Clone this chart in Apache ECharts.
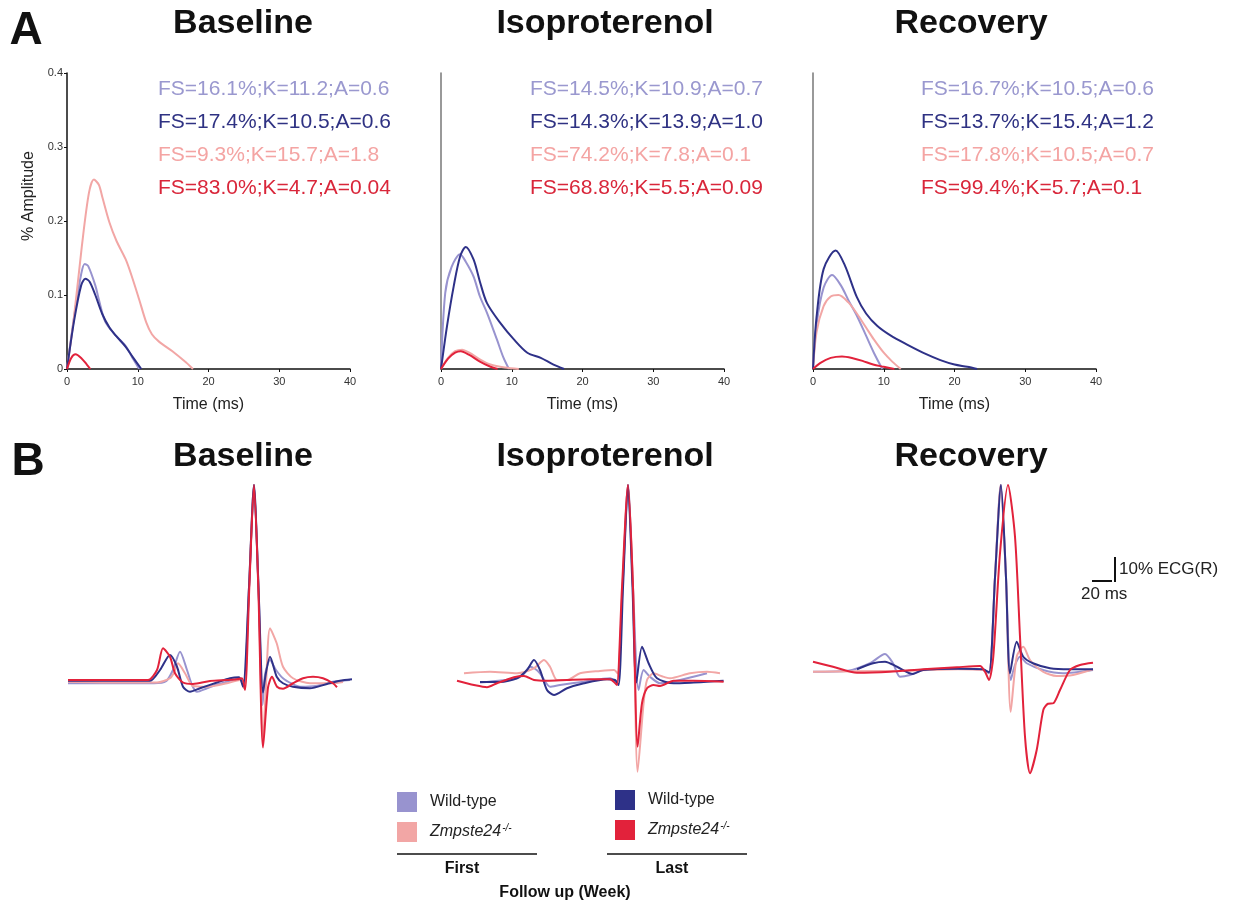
<!DOCTYPE html>
<html><head><meta charset="utf-8">
<script src="https://cdn.jsdelivr.net/npm/echarts@6/dist/echarts.min.js"></script>
<style>html,body{margin:0;padding:0;background:#fff}#c{width:1234px;height:908px}</style>
</head><body><div id="c"></div>
<script>
const FONT = '"Liberation Sans", Arial, sans-serif';
const conditions = ['Baseline', 'Isoproterenol', 'Recovery'];
const seriesNames = ['WT First', 'KO First', 'WT Last', 'KO Last'];
const colors = ['#9893cf', '#f2a6a5', '#2e3188', '#e2223b'];
const textColors = ['#9a98cf', '#2f3283', '#f4a4a3', '#d9263a'];
const timeTicks = [0, 10, 20, 30, 40];
const ampTicks = [0, 0.1, 0.2, 0.3, 0.4];

// Panel A annotation labels (per condition, rows: WT first, WT last, KO first, KO last)
const fsBaseline = ['FS=16.1%;K=11.2;A=0.6', 'FS=17.4%;K=10.5;A=0.6', 'FS=9.3%;K=15.7;A=1.8', 'FS=83.0%;K=4.7;A=0.04'];
const fsIso = ['FS=14.5%;K=10.9;A=0.7', 'FS=14.3%;K=13.9;A=1.0', 'FS=74.2%;K=7.8;A=0.1', 'FS=68.8%;K=5.5;A=0.09'];
const fsRecovery = ['FS=16.7%;K=10.5;A=0.6', 'FS=13.7%;K=15.4;A=1.2', 'FS=17.8%;K=10.5;A=0.7', 'FS=99.4%;K=5.7;A=0.1'];

// Panel A curves: [time ms, amplitude]
const aBaseWtFirst = [[0,0],[1,0.07],[2,0.128],[2.5,0.142],[3,0.139],[4,0.113],[4.5,0.094],[5.4,0.064],[6.9,0.045],[8.3,0.031],[9.2,0.016],[10.2,0]];
const aBaseKoFirst = [[0,0],[0.95,0.067],[2.1,0.166],[3.1,0.238],[3.8,0.256],[4.5,0.249],[5,0.232],[6,0.198],[7,0.173],[8.3,0.148],[9.2,0.124],[10.2,0.094],[11.2,0.063],[12,0.047],[13,0.037],[14.9,0.024],[16.8,0.009],[17.8,0]];
const aBaseWtLast = [[0,0],[1,0.065],[2,0.113],[2.6,0.122],[3.2,0.118],[4,0.1],[5,0.074],[6,0.056],[7,0.044],[8.3,0.03],[9.3,0.016],[10.5,0]];
const aBaseKoLast = [[0,0],[0.6,0.015],[1.2,0.02],[2,0.015],[2.8,0.006],[3.3,0]];

const aIsoWtFirst = [[0,0],[0.6,0.103],[1.5,0.138],[2.7,0.155],[3.5,0.145],[4.6,0.125],[5.5,0.098],[6.5,0.076],[7.9,0.04],[8.8,0.016],[9.6,0]];
const aIsoKoFirst = [[0,0],[1,0.015],[2,0.024],[3,0.026],[4,0.022],[5.5,0.013],[7,0.006],[9,0.002],[11,0]];
const aIsoWtLast = [[0,0],[0.85,0.058],[1.8,0.112],[2.7,0.152],[3.5,0.165],[4.6,0.148],[5.5,0.118],[6.5,0.089],[8.4,0.062],[10.3,0.04],[12.2,0.022],[14.1,0.015],[15.9,0.006],[17.4,0]];
const aIsoKoLast = [[0,0],[1,0.014],[2,0.022],[2.8,0.024],[4,0.019],[5.5,0.01],[7,0.003],[8,0]];

const aRecWtFirst = [[0,0],[0.5,0.06],[1.5,0.11],[2.7,0.127],[4,0.112],[5,0.093],[6.2,0.072],[7.5,0.045],[8.6,0.022],[9.8,0]];
const aRecKoFirst = [[0,0],[0.5,0.05],[1.5,0.085],[2.5,0.098],[3.6,0.1],[5,0.09],[6.2,0.075],[7.5,0.056],[8.6,0.04],[10,0.022],[11.2,0.01],[12.4,0]];
const aRecWtLast = [[0,0],[0.5,0.07],[1.5,0.135],[3.2,0.16],[4.5,0.14],[6.2,0.097],[7.5,0.075],[9.1,0.058],[11,0.045],[13.3,0.033],[16,0.02],[18,0.012],[20,0.006],[21.8,0.003],[23.2,0]];
const aRecKoLast = [[0,0],[1,0.008],[2.5,0.015],[4.1,0.017],[5.5,0.015],[7,0.011],[8.5,0.006],[10,0.003],[11.5,0]];

// Panel B ECG traces: [time ms relative to R, % ECG(R)]
const bBaseWtFirst = [[-186,-1.3],[-140,-1.3],[-100,-1.3],[-88,-0.5],[-81,4],[-74,11.3],[-67,4],[-62,-2],[-57,-4.7],[-47,-3.3],[-37,-1.8],[-27,-0.7],[-14,0.7],[-10,-3],[-5,37],[0,78],[4.5,37],[8.5,-10],[11,2],[16,8],[22,4],[29,0.7],[38,-1.5],[46,-2.7],[62,-2.4],[79,-0.7],[96,0]];
const bBaseKoFirst = [[-186,-0.7],[-140,-1],[-97,-1],[-84,0.7],[-80,3],[-76,6.7],[-69,2.7],[-61,-2.4],[-47,-2.7],[-27,-1.3],[-14,0],[-10,-3.3],[-5,37],[0,78],[4.5,37],[9,-25],[12,-2],[16,20.7],[22.7,14.7],[29,5.3],[39,0.7],[56,-1.3],[79,-1.3],[89,-0.8]];
const bBaseWtLast = [[-186,-0.3],[-140,-0.3],[-104,-0.3],[-94,4],[-84,10],[-77,5.3],[-71,-2.7],[-64,-4.7],[-54,-3.3],[-37,-1],[-24,0.7],[-15,1.1],[-11,-2.7],[-5,37],[0,78],[4.5,37],[9,-5],[12,3],[16,9.3],[22.7,1.3],[29,-1.3],[39,-2.7],[56,-3.3],[73,-1.6],[86,-0.3],[98,0.3]];
const bBaseKoLast = [[-186,0],[-140,0],[-106,0],[-97,4],[-91,12.7],[-84,9.3],[-79,2.7],[-71,-1],[-61,-1.6],[-44,-0.4],[-27,0],[-17,0.3],[-12,0.7],[-9,-4],[-4.7,37],[0,78],[4.3,37],[9,-27],[14,-3],[18,1.3],[23,-2.7],[29,-3.5],[39,-1.3],[49,0.7],[59,1.3],[69,0.7],[79,-1.3],[83,-2.9]];

const bIsoWtFirst = [[-148,-1],[-111,0.7],[-104,2.5],[-98,5.3],[-93,4.5],[-88,2.7],[-78,-2.7],[-68,-2],[-44,-0.7],[-18,0.7],[-11,-1.3],[-5.5,37],[0,78],[5,37],[10.6,-4],[15.6,4],[22,1.3],[32,-1.3],[52,0],[79,2.7]];
const bIsoKoFirst = [[-164,2.7],[-138,3.3],[-111,2.7],[-94,4.7],[-84,8],[-78,5.3],[-71,0],[-61,0],[-48,2.7],[-28,3.6],[-14,4],[-10.4,2.7],[-5.5,37],[0,78],[5,37],[9.6,-36.7],[15.6,-9.3],[19,0],[25.6,2.7],[34,1.5],[42,0.7],[62,2.7],[79,3.3],[92,2.7]];
const bIsoWtLast = [[-148,-0.8],[-128,-0.8],[-111,0.7],[-101,4],[-94,8],[-88,4],[-81,-4],[-74,-6],[-61,-3.3],[-44,-1.3],[-21,0.3],[-13,0],[-9.4,-2],[-5,37],[0,78],[4.5,37],[8.3,-1],[14,13.3],[20.6,6.7],[29,0.7],[45.6,-1.3],[65.6,-1],[79,-0.7],[95.6,-0.3]];
const bIsoKoLast = [[-171,-0.3],[-154,-2],[-141,-2.9],[-131,-1.3],[-114,1.1],[-104,1.6],[-94,0],[-81,-0.3],[-61,0],[-38,0.3],[-18,0.3],[-12.7,-1.3],[-11,-2],[-6,37],[0,78],[5,37],[9.6,-26.7],[14,-9.3],[19,-3.3],[25.6,-2],[32,-2.4],[45.6,-0.3],[65.6,-0.3],[95.6,-0.7]];

const bRecWtFirst = [[-195,-0.7],[-160,-0.3],[-138,2.7],[-123,6.4],[-115,2.7],[-108,-2.7],[-98,-2],[-85,0],[-50,0.5],[-25,0],[-19,-1.3],[-13,37],[-7.3,74],[-2,37],[2.7,-4],[7,2],[12,5.3],[18.7,2.7],[35,0],[55,-1.3],[85,0]];
const bRecKoFirst = [[-195,-0.7],[-150,-0.5],[-100,-0.3],[-50,0.3],[-25,0],[-19,-1],[-13,37],[-7.3,74],[-2,37],[2.7,-16.7],[8.7,5.3],[15.3,9.3],[22,4],[35,-0.7],[48.7,-2.4],[65,-2],[85,0.3]];
const bRecWtLast = [[-151,0.3],[-135,2.7],[-123,3.3],[-111,1.3],[-95,-1.6],[-85,0],[-50,0.5],[-25,0.3],[-19,-1],[-13,37],[-7,74],[-2,37],[2,-1.3],[8.7,11.3],[15.3,5.3],[25,2.7],[42,0.7],[62,0.3],[85,0.3]];
const bRecKoLast = [[-195,3.3],[-175,1.3],[-151,-1.1],[-118,-0.7],[-85,0.3],[-51,1.1],[-28,1.6],[-23,-0.7],[-19,-4],[-14.7,5.3],[-8,46.7],[0,74],[7,53.3],[12,13.3],[17,-26.7],[22,-41.3],[28.7,-32],[35.3,-16],[40,-13.5],[45.3,-13.3],[52,-8],[62,0],[72,2],[85,2.9]];

const aSets = [
  [aBaseWtFirst, aBaseKoFirst, aBaseWtLast, aBaseKoLast],
  [aIsoWtFirst, aIsoKoFirst, aIsoWtLast, aIsoKoLast],
  [aRecWtFirst, aRecKoFirst, aRecWtLast, aRecKoLast]
];
const bSets = [
  [bBaseWtFirst, bBaseKoFirst, bBaseWtLast, bBaseKoLast],
  [bIsoWtFirst, bIsoKoFirst, bIsoWtLast, bIsoKoLast],
  [bRecWtFirst, bRecKoFirst, bRecWtLast, bRecKoLast]
];
const fsSets = [fsBaseline, fsIso, fsRecovery];

const chart = echarts.init(document.getElementById('c'), null, {renderer: 'canvas'});

const aGridLeft = [67, 441, 813];
const aTextLeft = [158, 530, 921];
const bGrid = [
  {left: 60, width: 300, xmin: -194, xmax: 106, ymin: -40, ymax: 84},
  {left: 440, width: 300, xmin: -188, xmax: 112, ymin: -40, ymax: 84},
  {left: 800, width: 330, xmin: -208, xmax: 122, ymin: -44, ymax: 80}
];

const grids = [], xAxes = [], yAxes = [], series = [];
for (let i = 0; i < 3; i++) {
  grids.push({left: aGridLeft[i], top: 73, width: 283, height: 296});
  xAxes.push({
    gridIndex: i, type: 'value', min: timeTicks[0], max: timeTicks[timeTicks.length - 1], interval: 10,
    name: 'Time (ms)', nameLocation: 'middle', nameGap: 28,
    nameTextStyle: {fontFamily: FONT, fontSize: 16, color: '#222'},
    axisLine: {lineStyle: {color: '#111', width: 1.5}},
    axisTick: {show: true, length: 3, lineStyle: {color: '#111'}},
    axisLabel: {fontFamily: FONT, fontSize: 11, color: '#333', margin: 7},
    splitLine: {show: false}
  });
  yAxes.push(i === 0 ? {
    gridIndex: i, type: 'value', min: ampTicks[0], max: ampTicks[ampTicks.length - 1], interval: 0.1,
    name: '% Amplitude', nameLocation: 'middle', nameGap: 30,
    nameTextStyle: {fontFamily: FONT, fontSize: 16, color: '#222', padding: [0, 0, 0, 50]},
    axisLine: {show: true, lineStyle: {color: '#111', width: 1.5}},
    axisTick: {show: true, length: 3, lineStyle: {color: '#111'}},
    axisLabel: {fontFamily: FONT, fontSize: 11, color: '#333', margin: 4,
      formatter: v => v === 0 ? '0' : v.toFixed(1)},
    splitLine: {show: false}
  } : {
    gridIndex: i, type: 'value', min: 0, max: 0.4,
    axisLine: {show: true, lineStyle: {color: '#777', width: 1.5}},
    axisTick: {show: false}, axisLabel: {show: false}, splitLine: {show: false}
  });
  for (let s = 0; s < 4; s++) {
    series.push({
      name: seriesNames[s], type: 'line', xAxisIndex: i, yAxisIndex: i,
      data: aSets[i][s], smooth: 0.3, showSymbol: false, symbol: 'none',
      lineStyle: {color: colors[s], width: 2}, itemStyle: {color: colors[s]},
      z: 2 + s
    });
  }
}
for (let i = 0; i < 3; i++) {
  const g = bGrid[i];
  grids.push({left: g.left, top: 470, width: g.width, height: 310});
  xAxes.push({gridIndex: 3 + i, type: 'value', min: g.xmin, max: g.xmax, show: false});
  yAxes.push({gridIndex: 3 + i, type: 'value', min: g.ymin, max: g.ymax, show: false});
  for (let s = 0; s < 4; s++) {
    series.push({
      name: seriesNames[s], type: 'line', xAxisIndex: 3 + i, yAxisIndex: 3 + i,
      data: bSets[i][s], smooth: 0.25, showSymbol: false, symbol: 'none',
      lineStyle: {color: colors[s], width: 2}, itemStyle: {color: colors[s]},
      z: 2 + s
    });
  }
}

const graphic = [];
const txt = (text, x, y, font, fill, align) => graphic.push({
  type: 'text', x, y, silent: true,
  style: {text, font, fill: fill || '#111', textAlign: align || 'center', textVerticalAlign: 'middle'}
});
const line = (x1, y1, x2, y2, w) => graphic.push({
  type: 'line', silent: true, shape: {x1, y1, x2, y2}, style: {stroke: '#111', lineWidth: w || 1.5}
});

txt('A', 26, 31, 'bold 46px ' + FONT, '#111');
txt('B', 28, 462, 'bold 46px ' + FONT, '#111');
const titleX = [243, 605, 971];
conditions.forEach((c, i) => {
  txt(c, titleX[i], 24, 'bold 34px ' + FONT, '#111');
  txt(c, titleX[i], 457, 'bold 34px ' + FONT, '#111');
});
const fsY = [89, 122, 155, 188];
fsSets.forEach((arr, i) => arr.forEach((t, r) => txt(t, aTextLeft[i], fsY[r], '21px ' + FONT, textColors[r], 'left')));

// legend decorations
line(397, 854, 537, 854, 1.5);
line(607, 854, 747, 854, 1.5);
txt('First', 462, 869, 'bold 16px ' + FONT, '#111');
txt('Last', 672, 869, 'bold 16px ' + FONT, '#111');
txt('Follow up (Week)', 565, 893, 'bold 16px ' + FONT, '#111');

// scale bar
line(1092, 581, 1112, 581, 2);
line(1115, 557, 1115, 582, 2);
txt('10% ECG(R)', 1119, 569, '17px ' + FONT, '#222', 'left');
txt('20 ms', 1081, 594, '17px ' + FONT, '#222', 'left');

const legendFmt = name => name.startsWith('WT') ? 'Wild-type' : '{i|Zmpste24}{s|-/-}';
const legendText = {
  fontFamily: FONT, fontSize: 16, color: '#222', padding: [0, 0, 0, 8],
  rich: {
    i: {fontFamily: FONT, fontSize: 16, fontStyle: 'italic', color: '#222'},
    s: {fontFamily: FONT, fontSize: 10, fontStyle: 'italic', color: '#222', verticalAlign: 'top', padding: [0, 0, 8, 1]}
  }
};

chart.setOption({
  animation: false,
  backgroundColor: '#fff',
  grid: grids, xAxis: xAxes, yAxis: yAxes, series,
  legend: [
    {left: 397, top: 792, padding: 0, orient: 'vertical', icon: 'rect', itemWidth: 20, itemHeight: 20, itemGap: 10,
      data: ['WT First', 'KO First'], formatter: legendFmt, textStyle: legendText, selectedMode: false},
    {left: 615, top: 790, padding: 0, orient: 'vertical', icon: 'rect', itemWidth: 20, itemHeight: 20, itemGap: 10,
      data: ['WT Last', 'KO Last'], formatter: legendFmt, textStyle: legendText, selectedMode: false}
  ],
  graphic
});
</script></body></html>
